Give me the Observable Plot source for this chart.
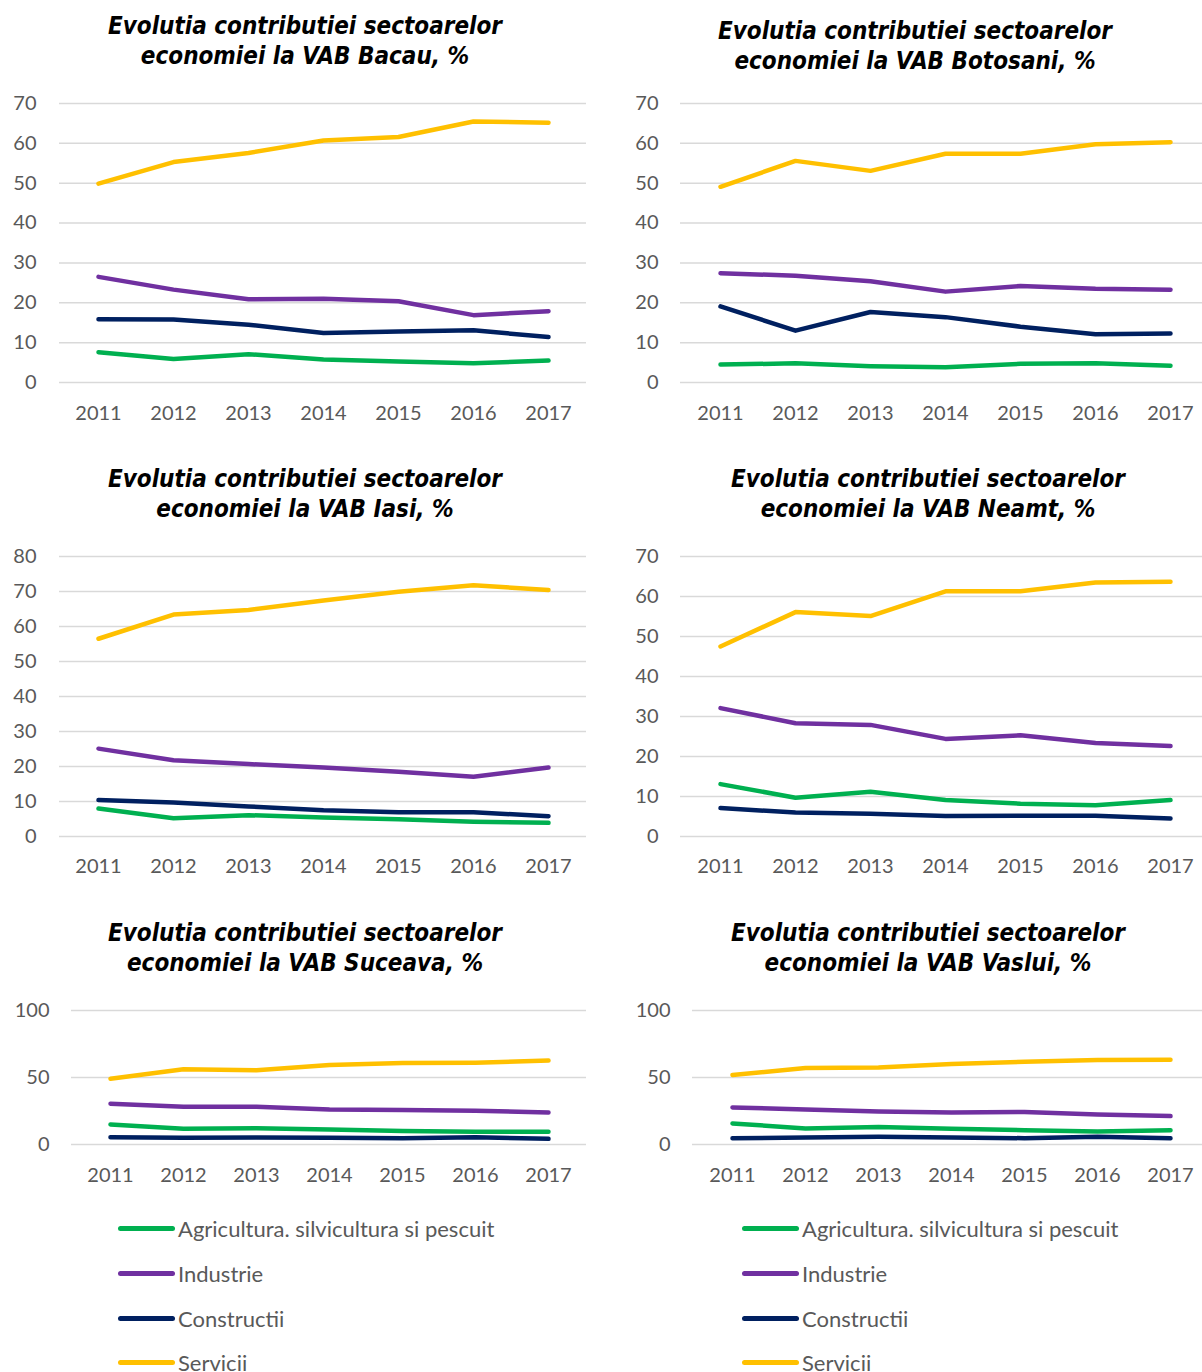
<!DOCTYPE html>
<html><head><meta charset="utf-8">
<script src="https://cdn.jsdelivr.net/npm/d3@7"></script>
<script src="https://cdn.jsdelivr.net/npm/@observablehq/plot@0.6"></script>
<style>
body{margin:0;background:#fff;}
#root{position:relative;width:1202px;height:1372px;overflow:hidden;font-family:Lato,sans-serif;}
.title{position:absolute;font-family:"DejaVu Sans",sans-serif;font-weight:bold;font-style:italic;font-stretch:condensed;font-size:24px;line-height:30px;text-align:center;color:#000;white-space:nowrap;transform:translateX(-50%);}
.chart{position:absolute;}
.leg-row{position:absolute;display:flex;align-items:center;white-space:nowrap;font-size:22px;color:#595959;height:26px;font-family:Lato,sans-serif;}
.sw{width:57px;height:5px;border-radius:3px;margin-right:3px;}
</style></head>
<body><div id="root"></div>
<script>
const years = ["2011","2012","2013","2014","2015","2016","2017"];
const sectors = ["Agricultura. silvicultura si pescuit","Industrie","Constructii","Servicii"];
const colors = ["#00B050","#7030A0","#002060","#FFC000"];

const bacauAgricultura = [7.6,5.9,7.1,5.8,5.3,4.8,5.5];
const bacauIndustrie   = [26.5,23.3,20.9,21.0,20.4,16.9,17.9];
const bacauConstructii = [15.9,15.8,14.5,12.4,12.8,13.1,11.4];
const bacauServicii    = [49.9,55.3,57.6,60.7,61.6,65.5,65.2];

const botosaniAgricultura = [4.5,4.8,4.1,3.8,4.7,4.8,4.2];
const botosaniIndustrie   = [27.4,26.8,25.4,22.8,24.2,23.5,23.3];
const botosaniConstructii = [19.1,13.0,17.7,16.4,14.0,12.1,12.3];
const botosaniServicii    = [49.1,55.6,53.1,57.4,57.4,59.8,60.3];

const iasiAgricultura = [8.0,5.2,6.1,5.4,4.9,4.2,3.9];
const iasiIndustrie   = [25.1,21.8,20.7,19.7,18.5,17.1,19.7];
const iasiConstructii = [10.4,9.7,8.6,7.5,6.9,6.9,5.8];
const iasiServicii    = [56.5,63.4,64.7,67.4,69.9,71.8,70.4];

const neamtAgricultura = [13.1,9.7,11.2,9.1,8.2,7.8,9.1];
const neamtIndustrie   = [32.1,28.3,27.9,24.4,25.3,23.4,22.6];
const neamtConstructii = [7.1,6.0,5.7,5.1,5.2,5.2,4.5];
const neamtServicii    = [47.5,56.1,55.1,61.3,61.3,63.5,63.7];

const suceavaAgricultura = [15.0,11.7,12.2,11.2,10.0,9.5,9.5];
const suceavaIndustrie   = [30.4,28.2,28.2,26.2,25.7,25.2,23.9];
const suceavaConstructii = [5.5,5.0,5.2,5.0,4.7,5.5,4.2];
const suceavaServicii    = [49.1,56.1,55.4,59.4,60.8,61.1,62.6];

const vasluiAgricultura = [15.7,12.0,13.0,11.7,10.7,9.7,10.7];
const vasluiIndustrie   = [27.7,26.2,24.7,23.9,24.2,22.4,21.2];
const vasluiConstructii = [4.7,5.2,5.7,5.2,4.7,5.7,4.7];
const vasluiServicii    = [51.9,57.1,57.4,60.1,61.8,63.1,63.3];

const ticks70 = [0,10,20,30,40,50,60,70];
const ticks80 = [0,10,20,30,40,50,60,70,80];
const ticks100 = [0,50,100];

const titleLine1 = "Evolutia contributiei sectoarelor";
const regions = ["Bacau","Botosani","Iasi","Neamt","Suceava","Vaslui"];

const root = document.getElementById("root");

function makeChart(series, yMax, yTicks, box) {
  const data = sectors.flatMap((s, i) => years.map((yr, j) => ({year: yr, value: series[i][j], sector: s})));
  const plot = Plot.plot({
    width: box.width, height: box.height,
    marginTop: box.mTop, marginBottom: box.mBottom, marginLeft: box.mLeft, marginRight: 0,
    x: {type: "point", domain: years, range: box.xRange, padding: 0},
    y: {domain: [0, yMax]},
    color: {domain: sectors, range: colors},
    style: {fontFamily: "Lato, sans-serif", fontSize: "20px", color: "#595959", background: "transparent", overflow: "visible"},
    marks: [
      Plot.gridY(yTicks, {stroke: "#d9d9d9", strokeOpacity: 1, strokeWidth: 1.5}),
      Plot.axisY(yTicks, {tickSize: 0, tickPadding: box.yPad, label: null, fill: "#595959", fontSize: 20}),
      Plot.axisX(years, {tickSize: 0, tickPadding: box.xPad, label: null, fill: "#595959", fontSize: 20}),
      Plot.line(data, {x: "year", y: "value", z: "sector", stroke: "sector", strokeWidth: 4.5, strokeLinecap: "round", strokeLinejoin: "round"})
    ]
  });
  plot.classList.add("chart");
  plot.style.left = box.left + "px";
  plot.style.top = box.top + "px";
  root.appendChild(plot);
}

function makeTitle(region, cx, top) {
  const d = document.createElement("div");
  d.className = "title";
  d.style.left = cx + "px";
  d.style.top = top + "px";
  d.innerHTML = titleLine1 + "<br>economiei la VAB " + region + ", %";
  root.appendChild(d);
}

function makeLegend(lineLeft, centers) {
  sectors.forEach((s, i) => {
    const row = document.createElement("div");
    row.className = "leg-row";
    row.style.left = lineLeft + "px";
    row.style.top = (centers[i] - 13) + "px";
    const sw = document.createElement("div");
    sw.className = "sw";
    sw.style.background = colors[i];
    const t = document.createElement("span");
    t.textContent = s;
    row.appendChild(sw); row.appendChild(t);
    root.appendChild(row);
  });
}

makeTitle(regions[0], 305, 11);
makeTitle(regions[1], 915, 16);
makeTitle(regions[2], 305, 464);
makeTitle(regions[3], 928, 464);
makeTitle(regions[4], 305, 918);
makeTitle(regions[5], 928, 918);

makeChart([bacauAgricultura, bacauIndustrie, bacauConstructii, bacauServicii], 70, ticks70,
  {left: 0, top: 80, width: 586, height: 352, mTop: 23, mBottom: 50, mLeft: 59, xRange: [96, 549], yPad: 23, xPad: 23});
makeChart([botosaniAgricultura, botosaniIndustrie, botosaniConstructii, botosaniServicii], 70, ticks70,
  {left: 600, top: 80, width: 602, height: 352, mTop: 23, mBottom: 50, mLeft: 80, xRange: [118, 572], yPad: 22, xPad: 23});
makeChart([iasiAgricultura, iasiIndustrie, iasiConstructii, iasiServicii], 80, ticks80,
  {left: 0, top: 530, width: 586, height: 356, mTop: 26, mBottom: 50, mLeft: 59, xRange: [96, 549], yPad: 23, xPad: 22});
makeChart([neamtAgricultura, neamtIndustrie, neamtConstructii, neamtServicii], 70, ticks70,
  {left: 600, top: 530, width: 602, height: 356, mTop: 26, mBottom: 50, mLeft: 80, xRange: [118, 572], yPad: 22, xPad: 22});
makeChart([suceavaAgricultura, suceavaIndustrie, suceavaConstructii, suceavaServicii], 100, ticks100,
  {left: 0, top: 990, width: 586, height: 204, mTop: 20, mBottom: 50, mLeft: 71, xRange: [107, 550], yPad: 22, xPad: 23});
makeChart([vasluiAgricultura, vasluiIndustrie, vasluiConstructii, vasluiServicii], 100, ticks100,
  {left: 600, top: 990, width: 602, height: 204, mTop: 20, mBottom: 50, mLeft: 92, xRange: [129, 572], yPad: 22, xPad: 23});

makeLegend(118, [1228, 1273, 1318, 1362]);
makeLegend(742, [1228, 1273, 1318, 1362]);
</script>
</body></html>
